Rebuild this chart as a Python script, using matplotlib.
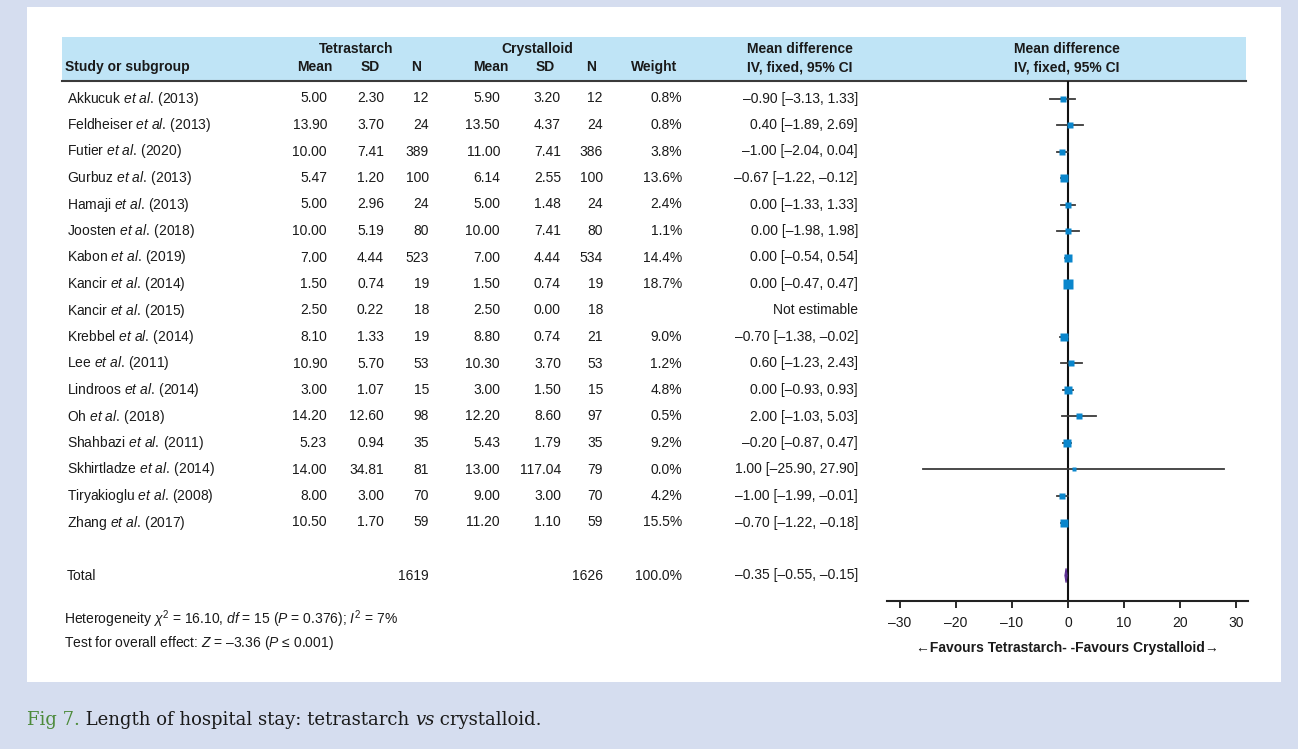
import numpy as np
import matplotlib
matplotlib.use("Agg")
import matplotlib.pyplot as plt
from matplotlib.patches import Rectangle, Polygon
from matplotlib.ticker import FuncFormatter

plt.rcParams["font.family"] = ["Liberation Sans", "DejaVu Sans"]
plt.rcParams["mathtext.fontset"] = "custom"
plt.rcParams["mathtext.rm"] = "Liberation Sans"
plt.rcParams["mathtext.it"] = "Liberation Sans:italic"
plt.rcParams["mathtext.bf"] = "Liberation Sans:bold"

# Study data
authors = ["Akkucuk", "Feldheiser", "Futier", "Gurbuz", "Hamaji", "Joosten", "Kabon",
           "Kancir", "Kancir", "Krebbel", "Lee", "Lindroos", "Oh", "Shahbazi",
           "Skhirtladze", "Tiryakioglu", "Zhang"]
years = [2013, 2013, 2020, 2013, 2013, 2018, 2019, 2014, 2015, 2014, 2011, 2014, 2018,
         2011, 2014, 2008, 2017]
tet_mean = [5.00, 13.90, 10.00, 5.47, 5.00, 10.00, 7.00, 1.50, 2.50, 8.10, 10.90, 3.00,
            14.20, 5.23, 14.00, 8.00, 10.50]
tet_sd = [2.30, 3.70, 7.41, 1.20, 2.96, 5.19, 4.44, 0.74, 0.22, 1.33, 5.70, 1.07, 12.60,
          0.94, 34.81, 3.00, 1.70]
tet_n = [12, 24, 389, 100, 24, 80, 523, 19, 18, 19, 53, 15, 98, 35, 81, 70, 59]
cry_mean = [5.90, 13.50, 11.00, 6.14, 5.00, 10.00, 7.00, 1.50, 2.50, 8.80, 10.30, 3.00,
            12.20, 5.43, 13.00, 9.00, 11.20]
cry_sd = [3.20, 4.37, 7.41, 2.55, 1.48, 7.41, 4.44, 0.74, 0.00, 0.74, 3.70, 1.50, 8.60,
          1.79, 117.04, 3.00, 1.10]
cry_n = [12, 24, 386, 100, 24, 80, 534, 19, 18, 21, 53, 15, 97, 35, 79, 70, 59]
weight = [0.8, 0.8, 3.8, 13.6, 2.4, 1.1, 14.4, 18.7, np.nan, 9.0, 1.2, 4.8, 0.5, 9.2,
          0.0, 4.2, 15.5]
md = [-0.90, 0.40, -1.00, -0.67, 0.00, 0.00, 0.00, 0.00, np.nan, -0.70, 0.60, 0.00,
      2.00, -0.20, 1.00, -1.00, -0.70]
ci_lo = [-3.13, -1.89, -2.04, -1.22, -1.33, -1.98, -0.54, -0.47, np.nan, -1.38, -1.23,
         -0.93, -1.03, -0.87, -25.90, -1.99, -1.22]
ci_hi = [1.33, 2.69, 0.04, -0.12, 1.33, 1.98, 0.54, 0.47, np.nan, -0.02, 2.43, 0.93,
         5.03, 0.47, 27.90, -0.01, -0.18]

total_tet_n = 1619
total_cry_n = 1626
total_weight = 100.0
total_md = -0.35
total_lo = -0.55
total_hi = -0.15
xticks = [-30, -20, -10, 0, 10, 20, 30]

bg = "#d5ddef"
head_bg = "#bfe4f6"
sq_col = "#0a86cc"
dia_col = "#5a2d91"
txt = "#1a1a1a"
fs = 10


def dash(s):
    return s.replace("-", "\u2013")


def row_y(i):
    return 98.5 + 26.5 * i


fig = plt.figure(figsize=(12.98, 7.49), dpi=100)
fig.patch.set_facecolor(bg)

# page axes in pixel units for layout and table text
ax = fig.add_axes([0, 0, 1, 1])
ax.set_xlim(0, 1298)
ax.set_ylim(749, 0)
ax.axis("off")
ax.add_patch(Rectangle((27, 7), 1254, 675, facecolor="white", edgecolor="none"))
ax.add_patch(Rectangle((62, 37), 1184, 44, facecolor=head_bg, edgecolor="none"))
ax.plot([62, 1246], [81, 81], color="#3a3a3a", lw=1.5)

# header
hb = dict(fontsize=fs, fontweight="bold", color=txt, va="center")
ax.text(65, 67, "Study or subgroup", ha="left", **hb)
ax.text(356, 49, "Tetrastarch", ha="center", **hb)
ax.text(537, 49, "Crystalloid", ha="center", **hb)
for x, lab in [(315, "Mean"), (370, "SD"), (416, "N"), (491, "Mean"), (545, "SD"),
               (591, "N"), (654, "Weight")]:
    ax.text(x, 67, lab, ha="center", **hb)
ax.text(800, 49, "Mean difference", ha="center", **hb)
ax.text(800, 67, "IV, fixed, 95% CI", ha="center", **hb)
ax.text(1067, 49, "Mean difference", ha="center", **hb)
ax.text(1067, 67, "IV, fixed, 95% CI", ha="center", **hb)

# table rows
tb = dict(fontsize=fs, color=txt, va="center")
for i in range(len(authors)):
    y = row_y(i)
    ax.text(67, y, authors[i] + r" $\mathit{et\ al.}\,$(" + str(years[i]) + ")", ha="left", **tb)
    ax.text(327, y, f"{tet_mean[i]:.2f}", ha="right", **tb)
    ax.text(384, y, f"{tet_sd[i]:.2f}", ha="right", **tb)
    ax.text(429, y, str(tet_n[i]), ha="right", **tb)
    ax.text(500, y, f"{cry_mean[i]:.2f}", ha="right", **tb)
    ax.text(561, y, f"{cry_sd[i]:.2f}", ha="right", **tb)
    ax.text(603, y, str(cry_n[i]), ha="right", **tb)
    if np.isnan(md[i]):
        ax.text(858, y, "Not estimable", ha="right", **tb)
    else:
        ax.text(682, y, f"{weight[i]:.1f}%", ha="right", **tb)
        ax.text(858, y, dash(f"{md[i]:.2f} [{ci_lo[i]:.2f}, {ci_hi[i]:.2f}]"), ha="right", **tb)

yt = row_y(18)
ax.text(67, yt, "Total", ha="left", **tb)
ax.text(429, yt, str(total_tet_n), ha="right", **tb)
ax.text(603, yt, str(total_cry_n), ha="right", **tb)
ax.text(682, yt, f"{total_weight:.1f}%", ha="right", **tb)
ax.text(858, yt, dash(f"{total_md:.2f} [{total_lo:.2f}, {total_hi:.2f}]"), ha="right", **tb)

ax.text(64, 619, r"Heterogeneity $\chi^2$ = 16.10, $\mathit{df}$ = 15 ($\mathit{P}$ = 0.376); $\mathit{I}^2$ = 7%",
        ha="left", **tb)
ax.text(64, 643, r"Test for overall effect: $\mathit{Z}$ = " + "\u20133.36 (" + r"$\mathit{P}$" + " \u2264 0.001)",
        ha="left", **tb)

# caption
cfs = 13
cap = ax.text(27, 729, "Fig 7.", fontsize=cfs, color="#4c8a3a", family="DejaVu Serif",
              ha="left", va="bottom")
c2 = ax.annotate(" Length of hospital stay: tetrastarch ", xy=(1, 0), xycoords=cap,
                 fontsize=cfs, color=txt, family="DejaVu Serif", ha="left", va="bottom")
c3 = ax.annotate("vs", xy=(1, 0), xycoords=c2, fontsize=cfs, color=txt,
                 family="DejaVu Serif", style="italic", ha="left", va="bottom")
ax.annotate(" crystalloid.", xy=(1, 0), xycoords=c3, fontsize=cfs, color=txt,
            family="DejaVu Serif", ha="left", va="bottom")

# forest plot
fx0, fx1 = 887, 1248
fy0, fy1 = 81, 601
fa = fig.add_axes([fx0 / 1298, 1 - fy1 / 749, (fx1 - fx0) / 1298, (fy1 - fy0) / 749])
fa.patch.set_alpha(0)
fa.set_xlim(-32.32, 32.14)
fa.set_ylim((fy1 - 98.5) / 26.5, (fy0 - 98.5) / 26.5)
for s in ["top", "left", "right"]:
    fa.spines[s].set_visible(False)
fa.spines["bottom"].set_linewidth(1.5)
fa.spines["bottom"].set_color("#222222")
fa.set_yticks([])
fa.set_xticks(xticks)
fa.xaxis.set_major_formatter(FuncFormatter(lambda v, p: dash(f"{v:.0f}")))
fa.tick_params(axis="x", direction="out", length=5, width=1.3, colors=txt,
               labelsize=fs, pad=6)
fa.axvline(0, color="#111111", lw=1.5, zorder=1)

for i in range(len(authors)):
    if np.isnan(md[i]):
        continue
    fa.plot([ci_lo[i], ci_hi[i]], [i, i], color="#3a3a3a", lw=1.3, zorder=2)
    size_px = 5 + 0.94 * np.sqrt(weight[i])
    fa.plot(md[i], i, marker="s", ms=size_px * 0.72, color=sq_col, mec="none", zorder=3)

dh = 0.27
fa.add_patch(Polygon([(total_lo, 18), (total_md, 18 - dh), (total_hi, 18), (total_md, 18 + dh)],
                     closed=True, facecolor=dia_col, edgecolor=dia_col, lw=0.8, zorder=3))

fa.set_xlabel("\u2190Favours Tetrastarch- -Favours Crystalloid\u2192", fontsize=fs,
              fontweight="bold", color=txt, labelpad=8)

fig.savefig("out.png", dpi=100, facecolor=fig.get_facecolor())
